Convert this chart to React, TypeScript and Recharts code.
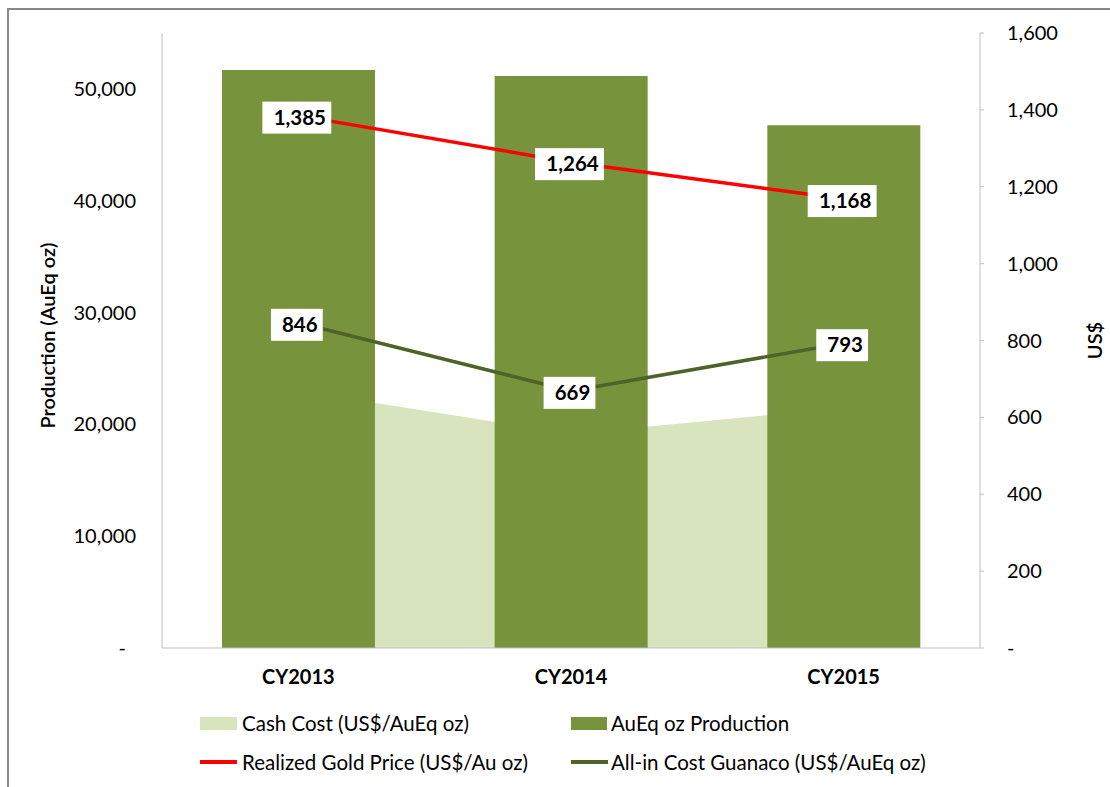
import React from 'react';
import { ComposedChart, Bar, Line, Area, XAxis, YAxis, LabelList } from 'recharts';

const categories = ['CY2013', 'CY2014', 'CY2015'];
const production = [51700, 51150, 46750];
const cashCost = [669, 557, 625];
const goldPrice = [1385, 1264, 1168];
const allInCost = [846, 669, 793];
const leftTicks = [0, 10000, 20000, 30000, 40000, 50000];
const rightTicks = [0, 200, 400, 600, 800, 1000, 1200, 1400, 1600];

const data = categories.map((c, i) => ({
  category: c,
  production: production[i],
  cashCost: cashCost[i],
  goldPrice: goldPrice[i],
  allInCost: allInCost[i],
}));

const FONT = 'Lato, "Open Sans", sans-serif';
const fmt = (v: number) => (v === 0 ? '-' : v.toLocaleString('en-US'));

const LeftTick = (props: any) => {
  const { x, y, payload } = props;
  const v = payload.value as number;
  return (
    <text x={v === 0 ? x - 10 : x} y={y} dy="0.355em" textAnchor="end" fontSize={20} fill="#000" fontFamily={FONT}>
      {fmt(v)}
    </text>
  );
};

const RightTick = (props: any) => {
  const { x, y, payload } = props;
  const v = payload.value as number;
  return (
    <text x={x} y={y} dy="0.355em" textAnchor="start" fontSize={20} fill="#000" fontFamily={FONT}>
      {fmt(v)}
    </text>
  );
};

const BoxLabel = (props: any) => {
  const { x, y, value } = props;
  const s = fmt(value as number);
  const digits = s.replace(/,/g, '').length;
  const commas = s.length - digits;
  const w = digits * 11.6 + commas * 5.5 + 17;
  const h = 32;
  const cy = y + 2;
  return (
    <g>
      <rect x={x - w / 2 - 1.5} y={cy - h / 2} width={w} height={h} fill="#ffffff" />
      <text x={x + 1.5} y={cy} dy="0.355em" textAnchor="middle" fontSize={20.5} fontWeight={700} fill="#000" fontFamily={FONT}>
        {s}
      </text>
    </g>
  );
};

const LeftTitle = (props: any) => {
  const vb = props.viewBox || { x: 62, y: 33, width: 100, height: 615 };
  const cx = vb.x - 15;
  const cy = vb.y + vb.height / 2 - 5;
  return (
    <text x={cx} y={cy} transform={`rotate(-90 ${cx} ${cy})`} textAnchor="middle" dominantBaseline="central" fontSize={20} fontWeight={600} fill="#000" fontFamily={FONT}>
      Production (AuEq oz)
    </text>
  );
};

const RightTitle = (props: any) => {
  const vb = props.viewBox || { x: 980, y: 33, width: 125, height: 615 };
  const cx = vb.x + 114;
  const cy = vb.y + vb.height / 2;
  return (
    <text x={cx} y={cy} transform={`rotate(-90 ${cx} ${cy})`} textAnchor="middle" dominantBaseline="central" fontSize={20} fontWeight={600} fill="#000" fontFamily={FONT}>
      US$
    </text>
  );
};

const legendText: React.CSSProperties = {
  position: 'absolute',
  fontSize: 20.5,
  fontFamily: FONT,
  color: '#000',
  lineHeight: '24px',
  whiteSpace: 'nowrap',
};

export default function App() {
  return (
    <div style={{ position: 'absolute', left: 0, top: 0, width: 1110, height: 787, overflow: 'hidden', background: '#fff', fontFamily: FONT }}>
      <div style={{ position: 'absolute', left: 7, top: 8, width: 1300, height: 1000, border: '2px solid #888888' }} />
      <div style={{ position: 'absolute', left: 0, top: 0 }}>
        <ComposedChart
          width={1110}
          height={787}
          data={data}
          margin={{ top: 33, right: 5, bottom: 99, left: 62 }}
          barCategoryGap="22%"
        >
          <XAxis
            dataKey="category"
            height={40}
            tickLine={false}
            tickSize={0}
            tickMargin={22}
            axisLine={{ stroke: '#bfbfbf' }}
            tick={{ fontSize: 20, fontWeight: 700, fill: '#000', fontFamily: FONT }}
          />
          <YAxis
            yAxisId="left"
            orientation="left"
            width={100}
            domain={[0, 55000]}
            ticks={leftTicks}
            interval={0}
            tickLine={false}
            tickSize={0}
            tickMargin={26}
            axisLine={{ stroke: '#bfbfbf' }}
            tick={<LeftTick />}
            label={LeftTitle}
          />
          <YAxis
            yAxisId="right"
            orientation="right"
            width={125}
            domain={[0, 1600]}
            ticks={rightTicks}
            interval={0}
            tickLine={{ stroke: '#bfbfbf' }}
            tickSize={4}
            tickMargin={23}
            axisLine={{ stroke: '#bfbfbf' }}
            tick={<RightTick />}
            label={RightTitle}
          />
          <Area
            yAxisId="right"
            dataKey="cashCost"
            type="linear"
            stroke="none"
            fill="#d7e4bd"
            fillOpacity={1}
            isAnimationActive={false}
            activeDot={false}
          />
          <Bar yAxisId="left" dataKey="production" fill="#77933c" isAnimationActive={false} />
          <Line
            yAxisId="right"
            dataKey="goldPrice"
            type="linear"
            stroke="#ff0000"
            strokeWidth={3.5}
            dot={false}
            activeDot={false}
            isAnimationActive={false}
          >
            <LabelList dataKey="goldPrice" content={<BoxLabel />} />
          </Line>
          <Line
            yAxisId="right"
            dataKey="allInCost"
            type="linear"
            stroke="#4f6228"
            strokeWidth={3.5}
            dot={false}
            activeDot={false}
            isAnimationActive={false}
          >
            <LabelList dataKey="allInCost" content={<BoxLabel />} />
          </Line>
        </ComposedChart>
      </div>
      <div style={{ position: 'absolute', left: 200, top: 717, width: 37, height: 13, background: '#d7e4bd' }} />
      <div style={{ ...legendText, left: 242, top: 711 }}>Cash Cost (US$/AuEq oz)</div>
      <div style={{ position: 'absolute', left: 571, top: 717, width: 36, height: 13, background: '#77933c' }} />
      <div style={{ ...legendText, left: 611, top: 711 }}>AuEq oz Production</div>
      <div style={{ position: 'absolute', left: 200, top: 760, width: 37, height: 4, background: '#ff0000' }} />
      <div style={{ ...legendText, left: 242, top: 750 }}>Realized Gold Price (US$/Au oz)</div>
      <div style={{ position: 'absolute', left: 571, top: 760, width: 37, height: 4, background: '#4f6228' }} />
      <div style={{ ...legendText, left: 611, top: 750 }}>All-in Cost Guanaco (US$/AuEq oz)</div>
    </div>
  );
}
